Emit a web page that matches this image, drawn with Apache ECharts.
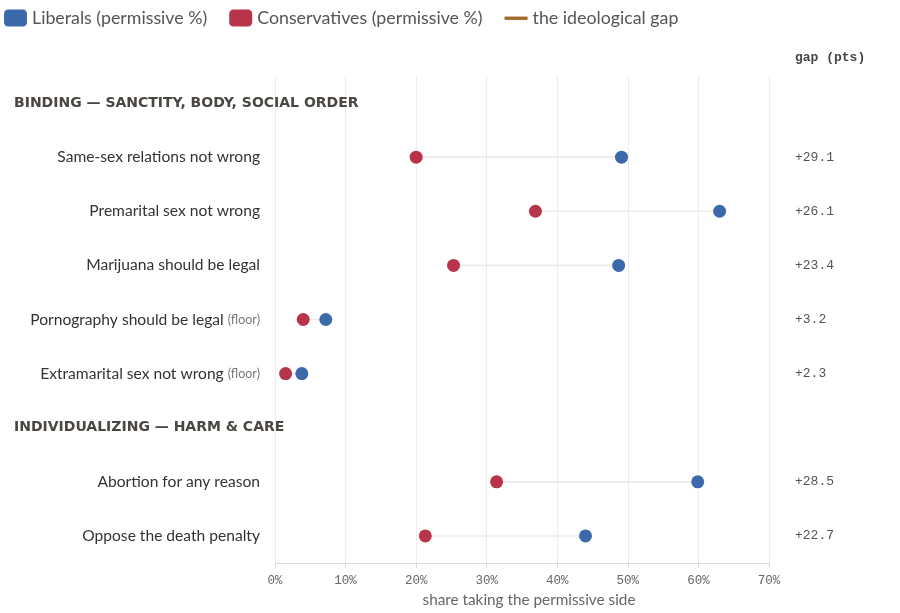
<!DOCTYPE html>
<html>
<head>
<meta charset="utf-8">
<script src="https://cdn.jsdelivr.net/npm/echarts@6/dist/echarts.min.js"></script>
<style>
  html, body { margin: 0; padding: 0; background: #fff; }
  #main { width: 900px; height: 613px; }
</style>
</head>
<body>
<div id="main"></div>
<script>
// rows top to bottom, section headers included
var rows = [
  'BINDING — SANCTITY, BODY, SOCIAL ORDER',
  'Same-sex relations not wrong',
  'Premarital sex not wrong',
  'Marijuana should be legal',
  'Pornography should be legal',
  'Extramarital sex not wrong',
  'INDIVIDUALIZING — HARM & CARE',
  'Abortion for any reason',
  'Oppose the death penalty'
];
var headerRows = [0, 6];
var floorRows = [4, 5];

// permissive share (%), null on header rows
var liberals      = [null, 49.1, 63.0, 48.7, 7.2, 3.8, null, 59.9, 44.0];
var conservatives = [null, 20.0, 36.9, 25.3, 4.0, 1.5, null, 31.4, 21.3];
var gaps          = [null, '+29.1', '+26.1', '+23.4', '+3.2', '+2.3', null, '+28.5', '+22.7'];

var blue = '#3b69a9';
var red = '#b7344a';
var gapColor = '#a3692b';
var mono = '"Liberation Mono", "DejaVu Sans Mono", monospace';

function pts(arr) {
  var out = [];
  arr.forEach(function (v, i) {
    if (v != null) out.push([v, i]);
  });
  return out;
}

var gapData = [];
rows.forEach(function (r, i) {
  if (liberals[i] != null) gapData.push([conservatives[i], liberals[i], i]);
});

var chart = echarts.init(document.getElementById('main'));

var option = {
  animation: false,
  textStyle: { fontFamily: 'Lato, "Noto Sans", sans-serif' },
  legend: {
    left: -1,
    top: 4,
    itemWidth: 23,
    itemHeight: 17,
    itemGap: 22,
    textStyle: { fontSize: 17.8, color: '#555', fontFamily: 'Lato, sans-serif' },
    data: [
      { name: 'Liberals (permissive %)', icon: 'roundRect' },
      { name: 'Conservatives (permissive %)', icon: 'roundRect' },
      { name: 'the ideological gap', icon: 'path://M0,0M24,17M0,7h24v3.5h-24z', itemStyle: { color: gapColor } }
    ]
  },
  title: {
    text: 'gap (pts)',
    left: 795,
    top: 51,
    padding: 0,
    textStyle: { fontFamily: mono, fontSize: 13, fontWeight: 'bold', color: '#444' }
  },
  grid: { left: 275, right: 131, top: 76, bottom: 50 },
  xAxis: {
    type: 'value',
    min: 0,
    max: 70,
    interval: 10,
    name: 'share taking the permissive side',
    nameLocation: 'middle',
    nameGap: 30,
    nameTextStyle: { fontSize: 15.3, color: '#666', padding: [0, 0, 0, 14] },
    axisLine: { show: true, lineStyle: { color: '#ddd9d4' } },
    axisTick: { show: true, length: 5, lineStyle: { color: '#ddd9d4' } },
    axisLabel: {
      margin: 11,
      fontFamily: mono,
      fontSize: 12.5,
      color: '#666',
      formatter: function (v) { return v + '%'; }
    },
    splitLine: { show: true, lineStyle: { color: '#eeebe8', width: 1 } }
  },
  yAxis: [{
    type: 'category',
    data: rows,
    inverse: true,
    axisLine: { show: false },
    axisTick: { show: false },
    splitLine: { show: false },
    axisLabel: {
      interval: 0,
      margin: 15,
      fontSize: 15.6,
      color: '#333',
      formatter: function (v, i) {
        if (headerRows.indexOf(i) >= 0) return '{h|' + v + '}';
        if (floorRows.indexOf(i) >= 0) return '{t|' + v + '} {f|(floor)}';
        return '{t|' + v + '}';
      },
      rich: {
        t: { fontSize: 15.6, color: '#333', fontFamily: 'Lato, sans-serif' },
        f: { fontSize: 12.5, color: '#777', fontFamily: 'Lato, sans-serif' },
        h: { fontSize: 14, fontWeight: 'bold', color: '#4a4640', fontFamily: '"DejaVu Sans", sans-serif', width: 246, align: 'left' }
      }
    }
  }, {
    type: 'category',
    data: rows,
    inverse: true,
    position: 'right',
    axisLine: { show: false },
    axisTick: { show: false },
    splitLine: { show: false },
    axisLabel: {
      interval: 0,
      margin: 26,
      fontFamily: mono,
      fontSize: 13,
      color: '#555',
      formatter: function (v, i) { return gaps[i] || ''; }
    }
  }],
  series: [{
    name: 'the ideological gap',
    type: 'custom',
    itemStyle: { color: gapColor },
    renderItem: function (params, api) {
      var a = api.coord([api.value(0), api.value(2)]);
      var b = api.coord([api.value(1), api.value(2)]);
      return {
        type: 'line',
        shape: { x1: a[0], y1: a[1], x2: b[0], y2: b[1] },
        style: { stroke: '#eeebe6', lineWidth: 1.6 }
      };
    },
    encode: { x: [0, 1], y: 2 },
    data: gapData,
    z: 1
  }, {
    name: 'Liberals (permissive %)',
    type: 'scatter',
    symbolSize: 13,
    itemStyle: { color: blue, opacity: 1 },
    data: pts(liberals),
    z: 3
  }, {
    name: 'Conservatives (permissive %)',
    type: 'scatter',
    symbolSize: 13,
    itemStyle: { color: red, opacity: 1 },
    data: pts(conservatives),
    z: 3
  }]
};

chart.setOption(option);
window.onresize = chart.resize;
</script>
</body>
</html>
